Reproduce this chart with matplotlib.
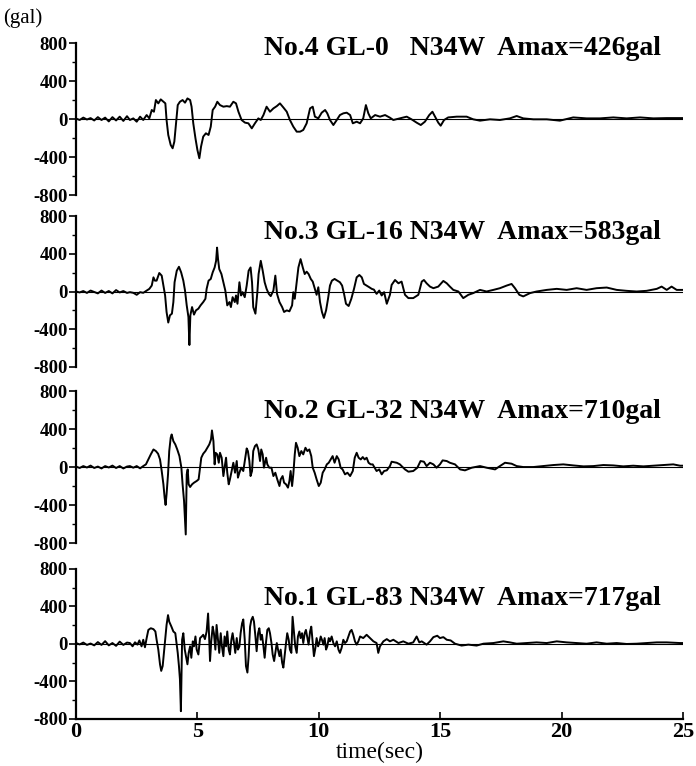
import matplotlib
matplotlib.use("Agg")
import matplotlib.pyplot as plt
from matplotlib.ticker import MultipleLocator

plt.rcParams["font.family"] = ["Liberation Serif", "DejaVu Serif"]

# acceleration records (gal), time in seconds
t_pre = [0.0, 0.15, 0.3, 0.45, 0.6, 0.75, 0.9, 1.05, 1.2, 1.35, 1.5, 1.65, 1.8, 1.95, 2.1]

# No.4 GL-0
t4 = t_pre + [
    2.22, 2.36, 2.50, 2.64, 2.77, 2.91, 3.02, 3.12, 3.21, 3.29,
    3.39, 3.49, 3.60, 3.68, 3.73, 3.80, 3.90, 3.98, 4.05, 4.12,
    4.19, 4.28, 4.39, 4.49, 4.59, 4.70, 4.76, 4.83, 4.92, 5.00,
    5.08, 5.15, 5.24, 5.35, 5.46, 5.55, 5.63, 5.73, 5.82, 5.93,
    6.07, 6.21, 6.34, 6.48, 6.59, 6.69, 6.82, 6.96, 7.10, 7.24,
    7.37, 7.51, 7.61, 7.72, 7.85, 7.99, 8.13, 8.27, 8.40, 8.54,
    8.68, 8.81, 8.95, 9.09, 9.23, 9.36, 9.50, 9.64, 9.75, 9.84,
    9.98, 10.12, 10.26, 10.35, 10.46, 10.60, 10.74, 10.87, 11.01, 11.15,
    11.29, 11.40, 11.56, 11.70, 11.83, 11.94, 12.04, 12.14, 12.32, 12.52,
    12.73, 12.93,
    13.07, 13.34, 13.62, 13.82, 14.03, 14.20, 14.37, 14.55, 14.68, 14.79,
    14.92, 15.02, 15.16, 15.33, 15.68, 16.09, 16.36, 16.64, 17.05, 17.46,
    17.87, 18.15, 18.42, 18.84, 19.39, 19.93, 20.48, 21.03, 21.58, 22.13,
    22.68, 23.23, 23.78, 24.33, 24.88, 25.0]
a4 = [5, -10, 15, -5, 10, -15, 20, -10, 15, -25, 20, -15, 25, -20, 30,
      -10, 7, -28, 25, -10, 42, 7, 95, 77, 200,
      165, 207, 182, 165, -10, -168, -273, -308, -238, -45,
      147, 182, 200, 172, 217, 200, 130, -45, -203, -325,
      -413, -290, -185, -150, -168, -80, 95, 130, 182, 147,
      130, 136, 130, 182, 165, 77, -10, -38, -45, -98,
      -45, 7, -10, 42, 130, 77, 112, 136, 165, 122,
      77, -10, -80, -133, -133, -115, -45, 112, 130, 25,
      7, 67, 95, 60, -10, -63, -10, 42, 60, 67,
      42, -45, -28, -45, 7, 147, 60, 7, 42, 25,
      42, 14,
      -10, 7, 25, -3, -38, -63, -28, 42, 77, 25,
      -38, -70, -10, 17, 25, 25, -3, -17, -3, -10,
      7, 32, 7, -3, -3, -17, 17, 7, 7, 17,
      7, 17, 7, 10, 10, 10]

# No.3 GL-16
t3 = t_pre + [
    2.22, 2.36, 2.50, 2.64, 2.77, 2.91, 3.02, 3.12, 3.19, 3.25,
    3.32, 3.43, 3.53, 3.60, 3.67, 3.73, 3.80, 3.87, 3.95, 4.01,
    4.06, 4.15, 4.24, 4.33, 4.42, 4.49, 4.56, 4.63, 4.67, 4.71,
    4.78, 4.86, 4.94, 5.04, 5.13, 5.24, 5.33, 5.38, 5.46, 5.55,
    5.63, 5.71, 5.77, 5.81, 5.85, 5.90, 5.99, 6.07, 6.15, 6.23,
    6.32, 6.38, 6.45, 6.54, 6.59, 6.65, 6.73, 6.80, 6.86, 6.95,
    7.03, 7.11, 7.19, 7.25, 7.30, 7.39, 7.47, 7.52, 7.61, 7.69,
    7.77, 7.85, 7.94, 8.02, 8.13, 8.21, 8.28, 8.38, 8.49, 8.57,
    8.68, 8.79, 8.90, 8.95, 9.01, 9.09, 9.16, 9.25, 9.34, 9.42,
    9.50, 9.58, 9.67, 9.75, 9.84, 9.91, 9.98, 10.05, 10.13, 10.21,
    10.30, 10.38, 10.46, 10.54, 10.65, 10.76, 10.87, 10.96, 11.04, 11.12,
    11.23, 11.34, 11.45, 11.56, 11.67, 11.77, 11.86, 11.97, 12.08, 12.18,
    12.27, 12.38, 12.49, 12.59, 12.69, 12.80, 12.93,
    13.00, 13.14, 13.28, 13.41, 13.55, 13.69, 13.89, 14.10, 14.24, 14.33,
    14.44, 14.58, 14.72, 14.92, 15.13, 15.27, 15.40, 15.54, 15.75, 15.95,
    16.16, 16.36, 16.64, 16.91, 17.19, 17.46, 17.74, 17.94, 18.08, 18.26,
    18.42, 18.70, 18.97, 19.39, 19.80, 20.21, 20.62, 21.03, 21.44, 21.86,
    22.27, 22.68, 23.09, 23.50, 23.92, 24.12, 24.33, 24.53, 24.74, 24.88,
    25.0]
a3 = [0, -10, 5, -15, 10, -5, -20, 10, -15, 5, -20, 15, -10, 5, -15,
      -7, -14, -35, -7, -14, 10, 28, 63, 150, 115,
      115, 196, 168, 63, -42, -217, -329, -252, -235, -112,
      98, 220, 262, 203, 115, 10, -147, -270, -567, -252,
      -165, -245, -200, -182, -147, -112, -77, 28, 115, 133,
      203, 255, 325, 465, 343, 238, 185, 98, 10, -147,
      -112, -165, -60, -112, -42, -130, 98, -42, -7, -60,
      63, 220, 255, 98, -165, -235, -7, 185, 325, 220,
      98, 28, -25, -49, 10, 168, -25, -112, -165, -217,
      -200, -210, -147, -7, -77, 98, 255, 343, 255, 185,
      210, 185, 133, 105, 28, -35, 45, -112, -217, -280,
      -200, -77, 63, 115, 133, 115, 98, 63, -25, -130,
      -154, -77, 28, 150, 175, 150, 80, 63, 45, 28,
      20, -25, 10, -42, -7, -130, -35,
      70, 122, 87, 105, -35, -70, -70, -35, 105, 122,
      87, 52, 35, 52, 112, 87, 52, 17, 0, -70,
      -35, -17, 17, 0, 17, 35, 63, 80, 35, -35,
      -52, -17, 0, 17, 28, 17, 35, 17, 35, 42,
      17, 7, 0, 7, 28, 52, 17, 52, 17, 17,
      17]

# No.2 GL-32
t2 = t_pre + [
    2.22, 2.36, 2.50, 2.64, 2.77, 2.88, 2.98, 3.08, 3.19, 3.29,
    3.38, 3.46, 3.53, 3.60, 3.65, 3.69, 3.73, 3.79, 3.84, 3.90,
    3.94, 4.01, 4.09, 4.17, 4.26, 4.34, 4.39, 4.45, 4.52, 4.56,
    4.60, 4.64, 4.70, 4.78, 4.86, 4.97, 5.05, 5.11, 5.16, 5.24,
    5.33, 5.41, 5.49, 5.56, 5.60, 5.66, 5.71, 5.75, 5.82, 5.88,
    5.93, 6.00, 6.07, 6.12, 6.18, 6.23, 6.29, 6.34, 6.41, 6.48,
    6.55, 6.62, 6.67, 6.73, 6.80, 6.89, 6.97, 7.03, 7.08, 7.14,
    7.19, 7.25, 7.30, 7.37, 7.44, 7.51, 7.58, 7.63, 7.69, 7.74,
    7.83, 7.88, 7.96, 8.05, 8.13, 8.21, 8.29, 8.38, 8.43, 8.51,
    8.57, 8.65, 8.73, 8.79, 8.84, 8.90, 8.95, 9.01, 9.06, 9.13,
    9.20, 9.28, 9.36, 9.45, 9.53, 9.61, 9.69, 9.75, 9.83, 9.91,
    10.00, 10.08, 10.16, 10.24, 10.33, 10.41, 10.49, 10.57, 10.65, 10.74,
    10.82, 10.90, 10.98, 11.08, 11.18, 11.29, 11.40, 11.48, 11.56, 11.64,
    11.73, 11.81, 11.89, 11.97, 12.05, 12.14, 12.22, 12.30, 12.38, 12.49,
    12.59, 12.69, 12.80, 12.93,
    13.00, 13.21, 13.34, 13.55, 13.69, 13.89, 14.06, 14.19, 14.33, 14.44,
    14.58, 14.72, 14.85, 14.99, 15.10, 15.27, 15.40, 15.61, 15.82, 16.02,
    16.30, 16.64, 16.91, 17.26, 17.46, 17.67, 17.94, 18.15, 18.42, 18.84,
    19.25, 19.66, 20.07, 20.48, 20.90, 21.31, 21.72, 22.13, 22.54, 22.95,
    23.37, 23.78, 24.19, 24.60, 24.88, 25.0]
a2 = [5, -10, 10, -5, 15, -10, 5, -15, 10, -5, 15, -10, 10, -15, 5,
      10, -7, 10, -14, 10, 28, 80, 133, 185, 168,
      140, 80, -42, -182, -322, -399, -287, -77, 168, 308,
      343, 273, 238, 185, 115, -7, -182, -357, -710, -77,
      -25, -182, -210, -182, -165, -147, -130, -7, 98, 140,
      168, 203, 238, 290, 385, 273, 28, 150, 133, 45,
      150, 98, -95, -7, 98, -60, -182, -130, -42, 45,
      -60, 63, -112, -60, -7, -42, 98, 196, 168, 63,
      -95, -42, 168, 220, 238, 185, 63, 185, 133, -7,
      98, 28, -7, -7, -95, -60, -130, -200, -130, -95,
      -165, -182, -217, -147, -42, -200, -77, 133, 255, 203,
      115, 168, 133, 203, 168, 185, 115, -7, -60, -130,
      -200, -165, -60, -25, 28, 45, 80, 115, 45, 115,
      80, -7, -25, -77, -60, -95, -42, 98, 150, 98,
      80, 105, 80, 98, 45, 28, 28, -7, -42, -25,
      -77, -42, -35, 10,
      56, 45, 28, -25, -49, -42, -7, 63, 56, 10,
      45, 28, -7, 28, 70, 63, 45, 28, -25, -35,
      -7, 10, -7, -25, 10, 45, 35, 10, 0, 0,
      10, 21, 28, 17, 7, 10, 21, 17, 7, 14,
      7, 14, 21, 28, 14, 14]

# No.1 GL-83
t1 = t_pre + [
    2.22, 2.33, 2.43, 2.53, 2.61, 2.70, 2.77, 2.84, 2.91, 2.98,
    3.08, 3.19, 3.27, 3.32, 3.39, 3.46, 3.51, 3.57, 3.62, 3.68,
    3.73, 3.79, 3.84, 3.93, 4.01, 4.09, 4.15, 4.19, 4.24, 4.28,
    4.32, 4.37, 4.42, 4.48, 4.53, 4.59, 4.64, 4.70, 4.75, 4.81,
    4.86, 4.92, 4.97, 5.04, 5.11, 5.18, 5.24, 5.31, 5.38, 5.44,
    5.48, 5.52, 5.57, 5.63, 5.68, 5.74, 5.79, 5.85, 5.90, 5.96,
    6.01, 6.07, 6.12, 6.18, 6.23, 6.29, 6.34, 6.40, 6.45, 6.51,
    6.56, 6.62, 6.67, 6.73, 6.78, 6.84, 6.89, 6.95, 7.00, 7.06,
    7.11, 7.17, 7.22, 7.28, 7.33, 7.39, 7.44, 7.50, 7.55, 7.61,
    7.66, 7.72, 7.77, 7.83, 7.88, 7.94, 7.99, 8.05, 8.10, 8.16,
    8.21, 8.27, 8.32, 8.38, 8.43, 8.49, 8.54, 8.59, 8.65, 8.70,
    8.76, 8.81, 8.87, 8.92, 8.98, 9.03, 9.09, 9.14, 9.20, 9.25,
    9.31, 9.36, 9.42, 9.47, 9.53, 9.58, 9.64, 9.69, 9.75, 9.80,
    9.86, 9.91, 9.97, 10.02, 10.08, 10.13, 10.19, 10.24, 10.30, 10.35,
    10.41, 10.46, 10.53, 10.60, 10.67, 10.74, 10.81, 10.87, 10.94, 11.01,
    11.08, 11.15, 11.22, 11.29, 11.35, 11.42, 11.49, 11.56, 11.63, 11.70,
    11.83, 11.97, 12.11, 12.25, 12.38, 12.45, 12.52, 12.66, 12.80, 12.93,
    13.07, 13.28, 13.48, 13.69, 13.89, 14.03, 14.14, 14.24, 14.44, 14.58,
    14.72, 14.88, 14.99, 15.13, 15.27, 15.43, 15.61, 15.88, 16.16, 16.50,
    16.78, 17.19, 17.60, 17.87, 18.15, 18.56, 18.97, 19.39, 19.80, 20.21,
    20.62, 21.03, 21.44, 21.86, 22.27, 22.68, 23.09, 23.50, 23.92, 24.33,
    24.88, 25.0]
a1 = [10, -5, 15, -10, 5, -15, 20, -10, 30, -15, 10, -20, 25, -10, 15,
      10, -25, 18, -7, 38, -25, 45, -35, 63, 150,
      168, 158, 133, 45, -60, -217, -287, -235, -95, 63,
      203, 308, 238, 185, 133, 115, -7, -95, -235, -374,
      -717, 45, 115, -60, -130, -217, -95, -25, -147, 28,
      -25, 80, -60, -112, 63, 80, 98, 52, 133, 325,
      98, -182, 28, 185, 115, -60, 203, 45, -95, 115,
      -25, -130, 80, -25, 133, -60, -112, 45, 115, 10,
      -95, 63, -60, -25, 115, 220, 262, 45, -235, -305,
      -130, 185, 255, 290, 238, 80, -77, 115, 168, 45,
      98, -25, -147, 28, 150, 168, 115, 10, -112, -182,
      -95, 10, -60, -130, -60, -200, -252, -130, 10, 115,
      45, -60, -95, 290, 115, -25, -95, 80, 133, 63,
      115, 10, 115, 150, 63, -7, 133, 185, 10, -130,
      -42, 63, -25, 10, 80, 45, -7, 63, -60, -25,
      63, 28, 80, 10, -25, 28, -60, -95, -42, 45,
      10, 28, 80, 133, 150, 98, 28, -7, 28, 80,
      63, 98, 63, 28, 10, -95, -25, 28, 52, 28,
      45, 10, 28, 3, 17, 80, 17, 28, -7, 28,
      73, 88, 63, 73, 45, 38, 3, -17, -7, -17,
      3, 10, 28, 17, 3, 10, 17, 10, 28, 17,
      10, 3, 17, 3, 10, 0, 3, 10, 17, 17,
      10, 10]

records = [(t4, a4), (t3, a3), (t2, a2), (t1, a1)]
titles = ["No.4 GL-0   N34W  Amax=426gal",
          "No.3 GL-16 N34W  Amax=583gal",
          "No.2 GL-32 N34W  Amax=710gal",
          "No.1 GL-83 N34W  Amax=717gal"]

# axes boxes in figure fraction (left, bottom, width, height), top to bottom
boxes = [(0.1092, 0.7454, 0.8721, 0.1984),
         (0.1092, 0.5209, 0.8721, 0.1971),
         (0.1092, 0.2911, 0.8721, 0.1984),
         (0.1092, 0.0614, 0.8721, 0.1958)]
title_y = [740, 620, 585, 490]

fig = plt.figure(figsize=(6.96, 7.66), dpi=100)

for i, ((t, a), title, box) in enumerate(zip(records, titles, boxes)):
    ax = fig.add_axes(box)
    ax.plot(t, a, color="black", linewidth=1.4)
    ax.axhline(0, color="black", linewidth=0.8)
    ax.set_xlim(0, 25)
    ax.set_ylim(-800, 800)

    for side in ["top", "right"]:
        ax.spines[side].set_visible(False)
    ax.spines["left"].set_linewidth(1.6)

    ax.yaxis.set_minor_locator(MultipleLocator(200))
    ax.set_yticks([800, 400, 0, -400, -800])
    ax.set_yticklabels(["800", "400", "0", "-400", "-800"],
                       fontweight="bold", fontsize=13.5)
    ax.tick_params(axis="y", which="major", length=5, width=1.2, pad=1)
    ax.tick_params(axis="y", which="minor", length=3, width=1.0)

    ax.text(24.1, title_y[i], title, ha="right", va="center",
            fontsize=20, fontweight="bold")

    if i < 3:
        ax.spines["bottom"].set_visible(False)
        ax.set_xticks([])
    else:
        ax.spines["bottom"].set_linewidth(1.6)
        ax.set_xticks([0, 5, 10, 15, 20, 25])
        ax.set_xticklabels(["0", "5", "10", "15", "20", "25"],
                           fontweight="bold", fontsize=16)
        ax.tick_params(axis="x", direction="in", length=5, width=1.2, pad=2)
        ax.set_xlabel("time(sec)", fontsize=17, labelpad=0)

fig.text(0.004, 0.976, "(gal)", fontsize=15, ha="left", va="center")

fig.savefig("out.png", dpi=100)
